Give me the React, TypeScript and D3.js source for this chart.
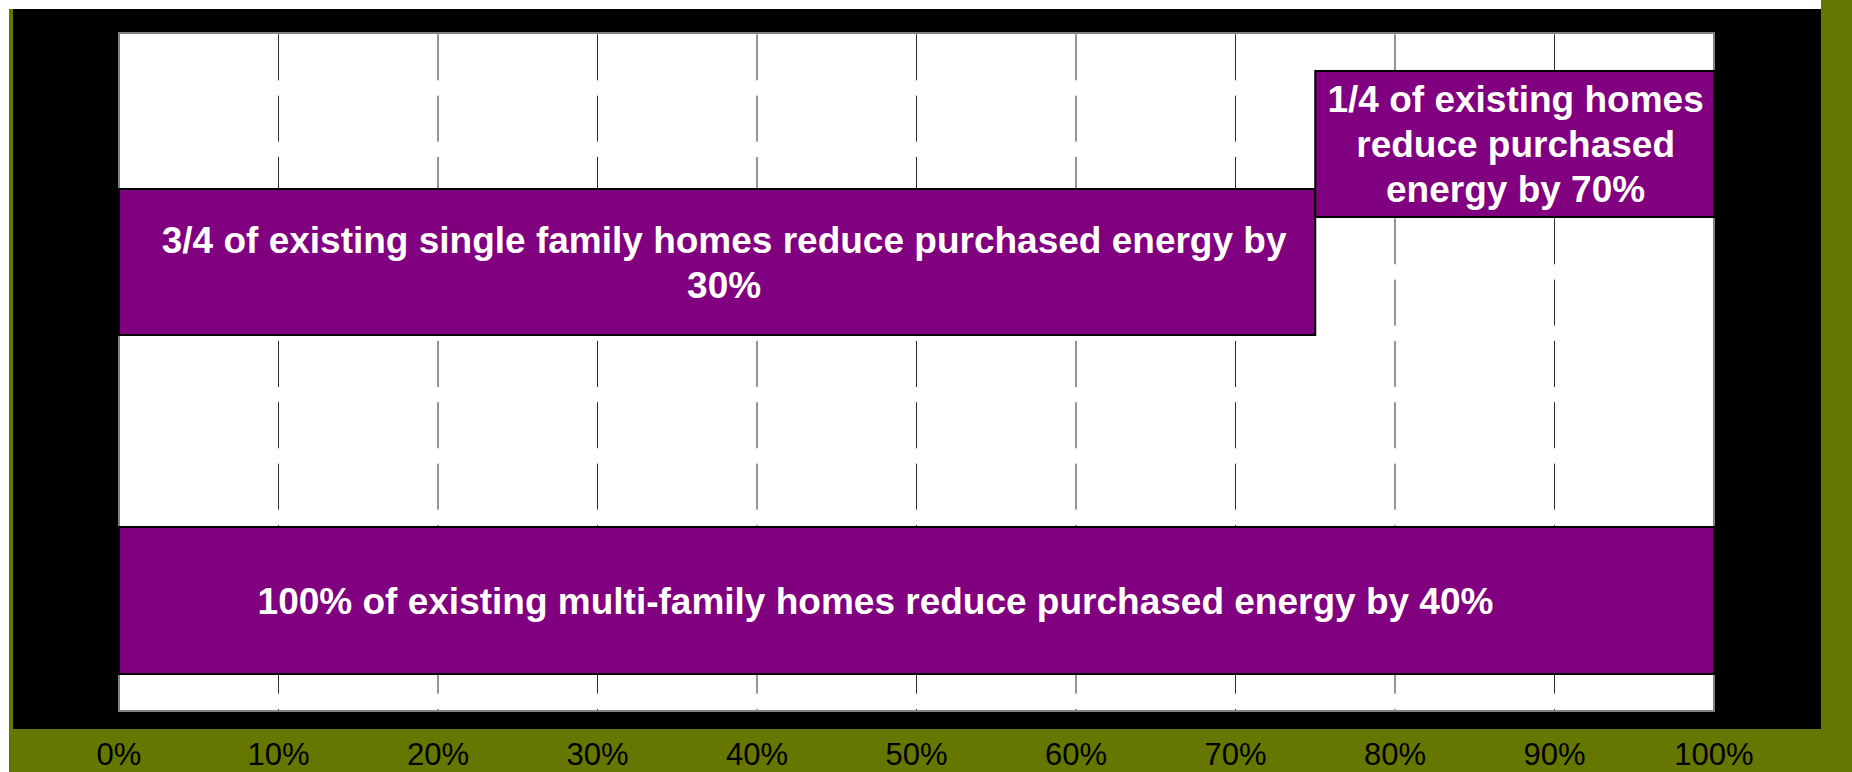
import React from "react";
import * as d3 from "d3";

// ---- data ----
const xTicks = [0, 0.1, 0.2, 0.3, 0.4, 0.5, 0.6, 0.7, 0.8, 0.9, 1.0];

// horizontal blocks: x extent (share of homes), y extent (abstract vertical units 0-100)
const blockX0 = [0, 0, 0.75];
const blockX1 = [1.0, 0.75, 1.0];
const blockY0 = [5.46, 55.46, 72.86];
const blockY1 = [27.14, 76.99, 94.4];
const blockLabels = [
  ["100% of existing multi-family homes reduce purchased energy by 40%"],
  ["3/4 of existing single family homes reduce purchased energy by", "30%"],
  ["1/4 of existing homes", "reduce purchased", "energy by 70%"],
];
const labelDx = [-41, 7, 1];

const W = 1852;
const H = 772;
const plot = { left: 119, right: 1714, top: 33, bottom: 711 };
const FONT = "'Liberation Sans', Arial, Helvetica, sans-serif";

export default function App() {
  const x = d3.scaleLinear().domain([0, 1]).range([plot.left, plot.right]);
  const y = d3.scaleLinear().domain([0, 100]).range([plot.bottom, plot.top]);
  const fmt = d3.format(".0%");
  const lineGap = 45;

  return (
    <svg
      width={W}
      height={H}
      style={{ position: "absolute", left: 0, top: 0, display: "block" }}
    >
      <rect x={0} y={0} width={W} height={H} fill="#ffffff" />
      <rect x={9} y={9} width={W - 9} height={H - 9} fill="#667700" />
      <rect x={1821} y={0} width={W - 1821} height={9} fill="#667700" />
      <rect x={13} y={9} width={1808} height={720} fill="#000000" />

      {/* plot area */}
      <rect
        x={plot.left}
        y={plot.top}
        width={plot.right - plot.left}
        height={plot.bottom - plot.top}
        fill="#ffffff"
      />
      {/* gridlines */}
      {xTicks.slice(1, -1).map((t) => (
        <line
          key={"g" + t}
          x1={x(t)}
          x2={x(t)}
          y1={plot.top}
          y2={plot.bottom}
          stroke="#2a2a2a"
          strokeWidth={1}
          strokeDasharray="46,15.33"
          strokeDashoffset={60.03}
        />
      ))}
      <rect
        x={plot.left}
        y={plot.top}
        width={plot.right - plot.left}
        height={plot.bottom - plot.top}
        fill="none"
        stroke="#808080"
        strokeWidth={2}
      />

      {/* blocks */}
      {blockLabels.map((lines, i) => {
        const bx0 = x(blockX0[i]);
        const bx1 = x(blockX1[i]);
        const by0 = y(blockY1[i]);
        const by1 = y(blockY0[i]);
        const cx = (bx0 + bx1) / 2 + labelDx[i];
        const cy = (by0 + by1) / 2;
        const capH = 26.5;
        const firstBase = cy - ((lines.length - 1) * lineGap) / 2 + capH / 2;
        return (
          <g key={"b" + i}>
            <rect
              x={bx0}
              y={by0}
              width={bx1 - bx0}
              height={by1 - by0}
              fill="#800080"
              stroke="#000000"
              strokeWidth={2}
            />
            {lines.map((ln, j) => (
              <text
                key={j}
                x={cx}
                y={firstBase + j * lineGap}
                textAnchor="middle"
                fontFamily={FONT}
                fontWeight="bold"
                fontSize={37}
                fill="#ffffff"
              >
                {ln}
              </text>
            ))}
          </g>
        );
      })}

      {/* x tick labels */}
      {xTicks.map((t) => (
        <text
          key={"t" + t}
          x={x(t)}
          y={765}
          textAnchor="middle"
          fontFamily={FONT}
          fontSize={31}
          fill="#000000"
        >
          {fmt(t)}
        </text>
      ))}
    </svg>
  );
}
